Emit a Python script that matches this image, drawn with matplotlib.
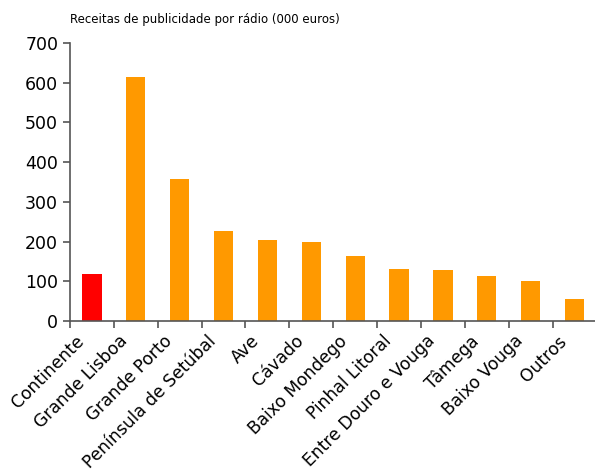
import numpy as np
import matplotlib.pyplot as plt
import matplotlib.transforms as mtransforms

regioes = ['Continente', 'Grande Lisboa', 'Grande Porto', 'Península de Setúbal',
           'Ave', 'Cávado', 'Baixo Mondego', 'Pinhal Litoral',
           'Entre Douro e Vouga', 'Tâmega', 'Baixo Vouga', 'Outros']
receitas = [118, 614, 358, 227, 204, 200, 164, 131, 128, 113, 101, 55]
cores = ['#ff0000'] + ['#ff9900'] * 11

plt.rcParams['font.family'] = 'DejaVu Sans'
fig = plt.figure(figsize=(5.95, 4.76), dpi=100)
ax = fig.add_axes([0.1176, 0.3256, 0.885, 0.5841])

x = np.arange(len(regioes))
ax.bar(x, receitas, width=0.44, color=cores)

ax.set_xlim(-0.5, len(regioes) - 0.5)
ax.set_ylim(0, 700)
ax.set_yticks(range(0, 701, 100))
ax.tick_params(axis='y', labelsize=12.5, length=5, color='#555555', width=1.2)

ax.set_xticks(x)
ax.set_xticklabels(regioes, rotation=45, ha='right', rotation_mode='anchor', fontsize=12.3)
ax.tick_params(axis='x', which='major', length=0, pad=8)
ax.set_xticks(np.arange(-0.5, len(regioes) - 0.5, 1), minor=True)
ax.tick_params(axis='x', which='minor', length=5, color='#555555', width=1.2)

# labels sit a bit left of the bar centres
desloc = mtransforms.ScaledTranslation(-17 / 100, 0, fig.dpi_scale_trans)
for lbl in ax.get_xticklabels():
    lbl.set_transform(lbl.get_transform() + desloc)

for s in ['top', 'right']:
    ax.spines[s].set_visible(False)
for s in ['left', 'bottom']:
    ax.spines[s].set_color('#555555')
    ax.spines[s].set_linewidth(1.2)

fig.text(0.1176, 0.958, 'Receitas de publicidade por rádio (000 euros)', fontsize=8.5, va='center')

plt.savefig('out.png', dpi=100)
